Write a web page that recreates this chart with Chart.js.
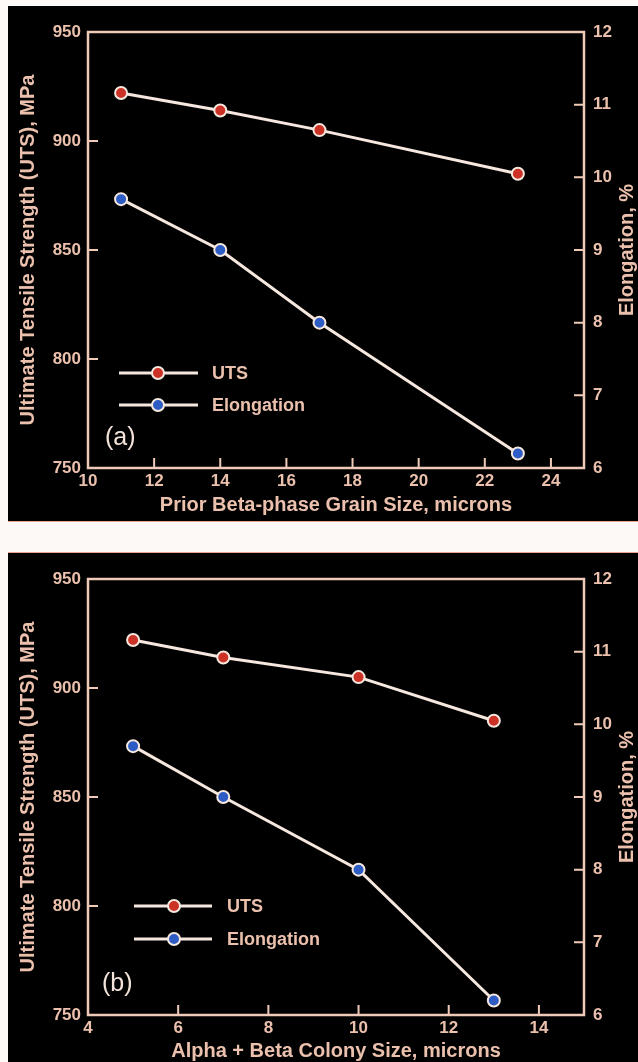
<!DOCTYPE html>
<html>
<head>
<meta charset="utf-8">
<script src="https://cdn.jsdelivr.net/npm/chart.js@4.4.1/dist/chart.umd.min.js"></script>
<style>
  body { margin: 0; background: #fdf9f7; width: 638px; height: 1062px; position: relative; overflow: hidden; }
  .panel { position: absolute; left: 8px; width: 630px; background: #000; }
  #pa { top: 6px; height: 515px; border-bottom: 1px solid #e8a58c; }
  #pb { top: 552px; height: 510px; border-top: 1px solid #e8a58c; }
  canvas { display: block; }
</style>
</head>
<body>
<div class="panel" id="pa"><canvas id="chartA" width="630" height="515"></canvas></div>
<div class="panel" id="pb"><canvas id="chartB" width="630" height="510"></canvas></div>
<script>
// panel (a): prior beta-phase grain size
const grainSize = [11, 14, 17, 23];
const utsA = [922, 914, 905, 885];
const elongA = [9.7, 9.0, 8.0, 6.2];

// panel (b): alpha + beta colony size
const colonySize = [5, 7, 10, 13];
const utsB = [922, 914, 905, 885];
const elongB = [9.7, 9.0, 8.0, 6.2];

const seriesNames = ['UTS', 'Elongation'];

const FONT = '"Liberation Sans", Arial, Helvetica, sans-serif';
const TXT = '#ebc1ae';
const AXIS = '#f0cab8';
const LINE = '#f6e8df';
const RED = '#cc3126';
const BLUE = '#2d5cc4';

const pts = (xs, ys) => xs.map((x, i) => ({ x: x, y: ys[i] }));

// frame, inward ticks, legend, panel label, right title
const decor = {
  id: 'decor',
  afterDraw(chart, args, o) {
    const { ctx, chartArea: a, scales } = chart;
    ctx.save();
    ctx.strokeStyle = AXIS;
    ctx.lineWidth = 2.5;
    ctx.strokeRect(a.left, a.top, a.right - a.left, a.bottom - a.top);
    const tl = 10;
    ctx.lineWidth = 2;
    ctx.beginPath();
    scales.x.ticks.forEach(t => {
      if (t.value <= scales.x.min || t.value >= scales.x.max) return;
      const px = scales.x.getPixelForValue(t.value);
      ctx.moveTo(px, a.bottom); ctx.lineTo(px, a.bottom - tl);
    });
    scales.y.ticks.forEach(t => {
      if (t.value <= scales.y.min || t.value >= scales.y.max) return;
      const py = scales.y.getPixelForValue(t.value);
      ctx.moveTo(a.left, py); ctx.lineTo(a.left + tl, py);
    });
    scales.y2.ticks.forEach(t => {
      if (t.value <= scales.y2.min || t.value >= scales.y2.max) return;
      const py = scales.y2.getPixelForValue(t.value);
      ctx.moveTo(a.right, py); ctx.lineTo(a.right - tl, py);
    });
    ctx.stroke();

    // legend
    chart.data.datasets.forEach((ds, i) => {
      const y = a.bottom + o.legY[i];
      ctx.strokeStyle = ds.borderColor;
      ctx.lineWidth = 3;
      ctx.beginPath();
      ctx.moveTo(a.left + o.legX0, y); ctx.lineTo(a.left + o.legX1, y);
      ctx.stroke();
      ctx.beginPath();
      ctx.arc(a.left + o.legM, y, ds.pointRadius, 0, Math.PI * 2);
      ctx.fillStyle = ds.pointBackgroundColor;
      ctx.fill();
      ctx.lineWidth = ds.pointBorderWidth;
      ctx.strokeStyle = ds.pointBorderColor;
      ctx.stroke();
      ctx.fillStyle = TXT;
      ctx.font = 'bold 18px ' + FONT;
      ctx.textAlign = 'left';
      ctx.textBaseline = 'middle';
      ctx.fillText(ds.label, a.left + o.legT, y + 1);
    });

    // panel label
    ctx.fillStyle = '#f3e3da';
    ctx.font = '25px ' + FONT;
    ctx.textAlign = 'left';
    ctx.textBaseline = 'middle';
    ctx.fillText(o.tag, a.left + o.tagX, a.bottom + o.tagY);

    // right axis title, reading upward
    ctx.translate(619, (a.top + a.bottom) / 2);
    ctx.rotate(-Math.PI / 2);
    ctx.font = 'bold 20px ' + FONT;
    ctx.fillStyle = TXT;
    ctx.textAlign = 'center';
    ctx.textBaseline = 'middle';
    ctx.fillText('Elongation, %', 0, 0);
    ctx.restore();
  }
};

function makeChart(id, xs, uts, el, xmin, xmax, xTitle, xH, xPad, deco) {
  const tickFont = { family: FONT, size: 17, weight: 'bold' };
  const titleFont = { family: FONT, size: 20, weight: 'bold' };
  const noGrid = { display: false, drawTicks: false };
  const common = {
    borderColor: LINE, borderWidth: 3, pointBorderColor: LINE, pointBorderWidth: 2,
    pointRadius: 6, tension: 0, fill: false
  };
  return new Chart(document.getElementById(id), {
    type: 'line',
    data: {
      datasets: [
        Object.assign({ label: seriesNames[0], data: pts(xs, uts), yAxisID: 'y', pointBackgroundColor: RED }, common),
        Object.assign({ label: seriesNames[1], data: pts(xs, el), yAxisID: 'y2', pointBackgroundColor: BLUE }, common)
      ]
    },
    options: {
      responsive: false,
      animation: false,
      layout: { padding: { top: 26, left: 0, right: 0, bottom: 0 } },
      plugins: { legend: { display: false }, tooltip: { enabled: false }, decor: deco },
      scales: {
        x: {
          type: 'linear', min: xmin, max: xmax,
          grid: noGrid, border: { display: false },
          ticks: { stepSize: 2, includeBounds: false, color: TXT, font: tickFont, padding: 3, maxRotation: 0 },
          title: { display: true, text: xTitle, color: TXT, font: titleFont, padding: { top: 0, bottom: xPad } },
          afterFit: s => { s.height = xH; }
        },
        y: {
          position: 'left', min: 750, max: 950,
          grid: noGrid, border: { display: false },
          ticks: { stepSize: 50, color: TXT, font: tickFont, padding: 7 },
          title: { display: true, text: 'Ultimate Tensile Strength (UTS), MPa', color: TXT, font: titleFont, padding: { top: 8, bottom: 0 } },
          afterFit: s => { s.width = 80; }
        },
        y2: {
          position: 'right', min: 6, max: 12,
          grid: noGrid, border: { display: false },
          ticks: { stepSize: 1, color: TXT, font: tickFont, padding: 9 },
          afterFit: s => { s.width = 54; }
        }
      }
    },
    plugins: [decor]
  });
}

makeChart('chartA', grainSize, utsA, elongA, 10, 25, 'Prior Beta-phase Grain Size, microns', 53, 4,
  { legY: [-95, -63], legX0: 31, legX1: 110, legM: 70, legT: 124, tag: '(a)', tagX: 17, tagY: -30 });
makeChart('chartB', colonySize, utsB, elongB, 4, 15, 'Alpha + Beta Colony Size, microns', 48, 0,
  { legY: [-109, -76], legX0: 46, legX1: 124, legM: 86, legT: 139, tag: '(b)', tagX: 14, tagY: -31 });
</script>
</body>
</html>
